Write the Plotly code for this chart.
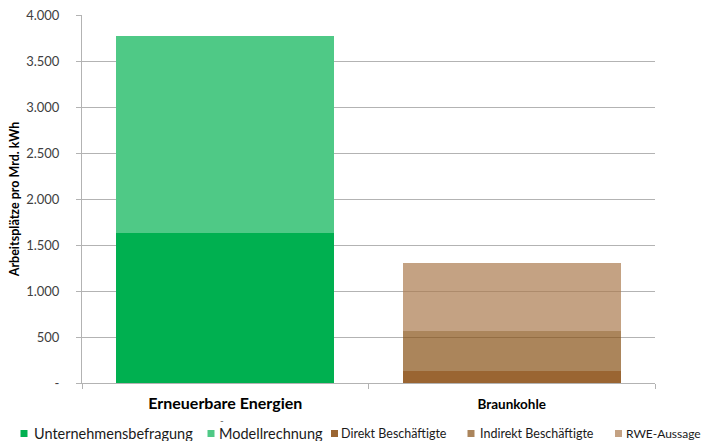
import plotly.graph_objects as go

categories = ["Erneuerbare Energien", "Braunkohle"]
unternehmensbefragung = [1630, None]
modellrechnung = [2140, None]
direkt = [None, 134]
indirekt = [None, 435]
rwe = [None, 736]

ytickvals = [0, 500, 1000, 1500, 2000, 2500, 3000, 3500, 4000]
yticktext = ["-", "500", "1.000", "1.500", "2.000", "2.500", "3.000", "3.500", "4.000"]

FONT = "Lato"
label_sizes = [16, 13.5]
x_labels = ['<b><span style="font-size:%spx">%s</span></b>' % (s, c) for c, s in zip(categories, label_sizes)]

# plot-area geometry (pixels) used to place legend swatches/texts
L, R, T, B = 82, 655, 15, 383
W, H = R - L, B - T

def px(x):
    return (x - L) / W

def py(y):
    return (B - y) / H

fig = go.Figure()
bars = [
    ("Unternehmensbefragung", unternehmensbefragung, "#00B050", "#00B050", 1.0),
    ("Modellrechnung", modellrechnung, "#4FC986", "#4FC986", 1.0),
    ("Direkt Beschäftigte", direkt, "#9A6532", "#9A6532", 1.0),
    ("Indirekt Beschäftigte", indirekt, "rgb(135,81,22)", "#AB855C", 0.7),
    ("RWE-Aussage", rwe, "rgb(171,122,78)", "#C4A283", 0.7),
]
for name, vals, col, _, op in bars:
    fig.add_trace(go.Bar(x=x_labels, y=vals, name=name, marker=dict(color=col, line=dict(width=0)),
                         opacity=op, showlegend=False, width=0.76))

# legend: swatch centre x, text start x, font size
legend_pos = [(24, 33, 14.5), (211, 218, 14.5), (334.5, 340, 12.5), (471, 479, 12.5), (618.5, 625, 12)]
LEG_Y = 433
for (name, _, _, swatch, _), (sx, tx, fs) in zip(bars, legend_pos):
    fig.add_shape(type="rect", xref="paper", yref="paper",
                  x0=px(sx - 3.5), x1=px(sx + 3.5), y0=py(LEG_Y + 4), y1=py(LEG_Y - 3),
                  fillcolor=swatch, line=dict(width=0))
    fig.add_annotation(text=name, x=px(tx), y=py(LEG_Y), xref="paper", yref="paper",
                       xanchor="left", yanchor="middle", showarrow=False, borderpad=0,
                       font=dict(family=FONT, size=fs, color="#1a1a1a"))

fig.update_layout(
    width=701, height=441,
    barmode="stack",
    showlegend=False,
    plot_bgcolor="white", paper_bgcolor="white",
    margin=dict(l=L, r=701 - R, t=T, b=441 - B),
    font=dict(family=FONT, color="#404040"),
    yaxis=dict(range=[0, 4000], tickvals=ytickvals, ticktext=yticktext, automargin=False,
               showgrid=True, gridcolor="#B3B3B3", gridwidth=1,
               showline=True, linecolor="#B3B3B3", linewidth=1,
               ticks="outside", ticklen=5, tickcolor="#B3B3B3",
               tickfont=dict(family=FONT, size=13, color="#404040"),
               ticklabelstandoff=14, zeroline=False,
               title=dict(text="<b>Arbeitsplätze pro Mrd. kWh</b>",
                          font=dict(family=FONT, size=12.5, color="#000000"), standoff=3)),
    xaxis=dict(showline=True, linecolor="#B3B3B3", linewidth=1, automargin=False,
               ticks="outside", ticklen=5, tickcolor="#B3B3B3", tickson="boundaries",
               ticklabelstandoff=9,
               tickfont=dict(family=FONT, size=13, color="#000000"), showgrid=False),
)
fig.add_annotation(text="-", x=px(218), y=py(420), xref="paper", yref="paper",
                   yanchor="middle", showarrow=False, font=dict(family=FONT, size=10, color="#595959"))
fig.write_html("out.html")
